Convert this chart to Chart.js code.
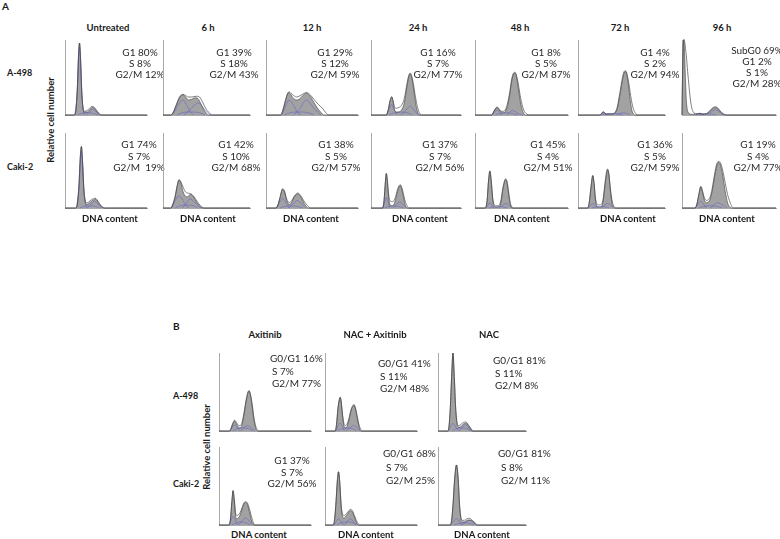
<!DOCTYPE html>
<html>
<head>
<meta charset="utf-8">
<script src="https://cdn.jsdelivr.net/npm/chart.js@4.4.1/dist/chart.umd.min.js"></script>
<style>
body { margin: 0; background: #fff; }
#fig { position: relative; width: 780px; height: 539px; font-family: Lato, "Open Sans", sans-serif; color: #2a2a2a; overflow: hidden; }
#fig canvas { position: absolute; }
.t { position: absolute; white-space: pre; font-size: 10px; line-height: 1; }
.c { transform: translate(-50%, -50%); }
.l { transform: translateY(-50%); }
.b { font-weight: bold; color: #1a1a1a; }
.v { transform: translate(-50%, -50%) rotate(-90deg); }
</style>
</head>
<body>
<div id="fig"></div>
<script>
// x = DNA content (channel, 0-100), y = relative cell number (0-100)

// ---- A-498, time course ----
const a498_0h_hist = [[0,0],[11,0],[13,4],[15,35],[16.5,80],[17.7,96],[19,75],[20.5,30],[22,9],[24,4],[27,4],[30,7],[33,10],[35,9.5],[38,6],[41,2],[44,0],[100,0]];
const a498_0h_fit = [[0,0],[11,0],[13,4],[15,35],[16.5,80],[17.7,96],[19,75],[20.5,30],[22,9],[24,5],[27,6],[30,9],[33,11.5],[35,11],[38,7],[41,2.5],[45,0],[100,0]];
const a498_0h_g1 = [[12,0],[15,30],[17.7,90],[20.5,28],[23,0]];
const a498_0h_s = [[15,0],[20,2],[28,3],[35,2],[40,0]];
const a498_0h_g2 = [[26,0],[30,4],[34,8],[38,4],[42,0]];

const a498_6h_hist = [[0,0],[9,0],[12,4],[16,15],[19.5,24],[23,27],[26,24],[29,20],[33,21],[37,23],[40,22],[44,14],[48,5],[52,0],[100,0]];
const a498_6h_fit = [[0,0],[9,0],[12,4],[16,16],[19.5,25],[23,27.5],[26,26],[29,24],[33,24],[38,25],[42,24],[46,16],[50,7],[54,2],[57,0],[100,0]];
const a498_6h_g1 = [[10,0],[15,8],[19,16],[23,20],[27,14],[31,5],[35,0]];
const a498_6h_s = [[16,0],[22,3],[32,4],[42,3],[48,0]];
const a498_6h_g2 = [[24,0],[30,6],[36,13],[41,16],[46,10],[51,3],[55,0]];

const a498_12h_hist = [[0,0],[16,0],[18,5],[21,18],[23.5,28],[25,30],[27,27],[30,22],[33,20],[36,21],[40,26],[44,29],[48,25],[52,17],[56,9],[60,3],[63,0],[100,0]];
const a498_12h_fit = [[0,0],[16,0],[18,5],[21,19],[23.5,29],[25,31],[27,29],[30,26],[33,24],[36,25],[40,28],[44,30],[48,27],[52,21],[57,14],[62,8],[65,3],[68,0],[100,0]];
const a498_12h_g1 = [[17,0],[20,8],[25,20],[30,13],[34,4],[38,0]];
const a498_12h_s = [[20,0],[26,3],[36,4],[46,3],[52,0]];
const a498_12h_g2 = [[30,0],[36,7],[44,20],[50,12],[56,4],[60,0]];

const a498_24h_hist = [[0,0],[17,0],[19,6],[21,18],[23,24],[24.5,18],[26,8],[28,4],[31,4],[34,7],[37,16],[40,38],[42,51],[43.5,55],[45,51],[47,38],[49,20],[51,7],[53,1],[55,0],[100,0]];
const a498_24h_fit = [[0,0],[17,0],[19,6],[21,18],[23,24.5],[24.5,19],[26,11],[28,9],[31,10],[34,13],[37,22],[40,42],[42,53],[43.5,56],[45,53],[47,42],[49,27],[51,14],[53,5],[55,1],[57,0],[100,0]];
const a498_24h_g1 = [[17,0],[20,8],[23,14],[26,6],[29,0]];
const a498_24h_s = [[20,0],[26,3],[33,4],[40,3],[46,0]];
const a498_24h_g2 = [[33,0],[37,4],[40,8],[44,12],[48,6],[52,1],[55,0]];

const a498_48h_hist = [[0,0],[18,0],[20,4],[22.5,9],[24,10],[26,7],[28,4],[31,3],[34,8],[37,24],[39.5,45],[41.5,55],[43,56],[45,48],[47,32],[49,16],[51,6],[53,1],[55,0],[100,0]];
const a498_48h_fit = [[0,0],[18,0],[20,4],[22.5,9.5],[24,10.5],[26,8],[28,5],[31,5],[34,11],[37,28],[39.5,48],[41.5,56],[43,57],[45,51],[47,38],[49,23],[51,12],[53,5],[56,1],[58,0],[100,0]];
const a498_48h_g1 = [[18,0],[21,4],[23.5,7],[26,4],[29,0]];
const a498_48h_s = [[22,0],[27,2],[34,3],[40,2],[46,0]];
const a498_48h_g2 = [[34,0],[37,3],[40,6],[44,4],[48,1],[52,0]];

const a498_72h_hist = [[0,0],[25,0],[27,2],[29,4],[31,2],[33,1],[38,1],[42,2],[45,8],[48,25],[51,46],[53,56],[54.5,58],[56,54],[58,40],[60,20],[62,6],[64,1],[66,0],[100,0]];
const a498_72h_fit = [[0,0],[25,0],[27,2],[29,4.5],[31,2.5],[33,1.5],[38,1.5],[42,3],[45,10],[48,29],[51,49],[53,58],[54.5,59],[56,56],[58,45],[60,30],[62,16],[64,7],[66,2.5],[68,0],[100,0]];
const a498_72h_g1 = [[25,0],[27,1.5],[29,3],[31,1.5],[33,0]];
const a498_72h_s = [[27,0],[32,1.5],[40,2],[46,1.5],[52,0]];
const a498_72h_g2 = [[44,0],[48,2],[52,3],[56,2],[60,0]];

const a498_96h_hist = [[0,0],[0.5,45],[1.3,90],[2,100],[2.8,80],[3.6,50],[4.5,22],[5.5,8],[7,3],[10,1],[16,1],[19,2],[22,1],[26,1.5],[29,4],[32,8],[35.5,10],[38,8.5],[41,4],[44,1],[47,0],[100,0]];
const a498_96h_fit = [[0,0],[0.5,50],[1.3,95],[2,101],[3,96],[4.5,80],[6,58],[7.5,38],[9,20],[10.5,9],[12,4],[15,2],[19,2],[22,1.5],[26,2],[29,5],[32,9],[35.5,11],[38,9.5],[41,5],[44,1.5],[48,0],[100,0]];
const a498_96h_g1 = [[15,0],[17,1.5],[19,2.5],[21,1.5],[23,0]];
const a498_96h_s = [[18,0],[22,1],[28,1.5],[32,1],[36,0]];
const a498_96h_g2 = [[27,0],[31,4],[35.5,7],[40,4],[44,0]];

// ---- Caki-2, time course ----
const caki_0h_hist = [[0,0],[13,0],[15,5],[17,30],[18.5,65],[20,82],[21.5,60],[23,25],[24.5,9],[26,5],[29,6],[32,9],[35,11],[37,12],[39,10],[42,5],[45,1.5],[48,0],[100,0]];
const caki_0h_fit = [[0,0],[13,0],[15,5],[17,30],[18.5,65],[20,82],[21.5,60],[23,26],[24.5,11],[26,7],[29,8],[32,11],[35,12.5],[37,13],[39,11],[42,6],[45,2],[49,0],[100,0]];
const caki_0h_g1 = [[14,0],[17,25],[20,75],[23,22],[26,0]];
const caki_0h_s = [[18,0],[23,2],[30,3],[37,2],[42,0]];
const caki_0h_g2 = [[27,0],[31,4],[36,9],[41,4],[45,0]];

const caki_6h_hist = [[0,0],[9,0],[11,4],[14,15],[16.5,30],[18.5,37],[20.5,33],[23,22],[25.5,16],[28,15],[30,17],[32,18],[35,15],[38,9],[41,4],[44,1],[46,0],[100,0]];
const caki_6h_fit = [[0,0],[9,0],[11,4],[14,16],[16.5,31],[18.5,38],[20.5,35],[23,28],[25.5,22],[28,20],[30,19.5],[32,19],[35,16],[38,11],[41,6],[44,2],[48,0],[100,0]];
const caki_6h_g1 = [[10,0],[14,10],[18,16],[22,12],[26,4],[30,0]];
const caki_6h_s = [[14,0],[20,3],[28,4],[35,3],[40,0]];
const caki_6h_g2 = [[22,0],[26,5],[31,12],[36,8],[41,2],[44,0]];

const caki_12h_hist = [[0,0],[11,0],[13,4],[15.5,15],[18,25],[20,22],[22,12],[24,6],[26,5],[28,8],[30.5,14],[33,18],[34.5,19],[36.5,17],[39,12],[41.5,6],[44,2],[46,0],[100,0]];
const caki_12h_fit = [[0,0],[11,0],[13,4],[15.5,15.5],[18,25.5],[20,23],[22,14],[24,8],[26,7.5],[28,10],[30.5,15.5],[33,19],[34.5,20],[36.5,18.5],[39,14],[42,8],[45,3.5],[48.5,0],[100,0]];
const caki_12h_g1 = [[11,0],[15,8],[18,13],[21,8],[25,0]];
const caki_12h_s = [[15,0],[20,2],[27,3],[34,2],[40,0]];
const caki_12h_g2 = [[25,0],[29,5],[34,10],[39,5],[43,0]];

const caki_24h_hist = [[0,0],[13,0],[14.5,10],[16,35],[17,46],[18,38],[19.5,15],[21,5],[23,3],[25,4],[27,10],[29.5,22],[31.5,29],[32.5,30],[34,26],[36,15],[38,4],[40,0],[100,0]];
const caki_24h_fit = [[0,0],[13,0],[14.5,10],[16,35],[17,46],[18,39],[19.5,19],[21,10],[23,8.5],[25,9],[27,14],[29.5,25],[31.5,30],[32.5,31],[34,28],[36,19],[38,9],[40,3],[42,0],[100,0]];
const caki_24h_g1 = [[13,0],[15,8],[17,14],[19,8],[21,0]];
const caki_24h_s = [[15,0],[20,2],[25,3],[31,2],[36,0]];
const caki_24h_g2 = [[25,0],[28,4],[32,8],[36,4],[39,0]];

const caki_48h_hist = [[0,0],[11,0],[13,10],[14.5,35],[16,49],[17.5,35],[19,12],[20.5,3],[23,1],[26,2],[28,8],[30,25],[32,36],[33,38],[34.5,33],[36,20],[37.5,7],[39,1],[41,0],[100,0]];
const caki_48h_fit = [[0,0],[11,0],[13,10],[14.5,36],[16,49.5],[17.5,36],[19,14],[20.5,5],[23,3],[26,4],[28,11],[30,27],[32,37],[33,39],[34.5,35],[36,23],[37.5,10],[39,3],[42,0],[100,0]];
const caki_48h_g1 = [[12,0],[14,4],[16,7],[18,4],[20,0]];
const caki_48h_s = [[15,0],[20,1.5],[25,2],[30,1.5],[35,0]];
const caki_48h_g2 = [[26,0],[29,3],[33,6],[37,3],[40,0]];

const caki_72h_hist = [[0,0],[11,0],[13,8],[15,28],[17,43],[18.5,32],[20,12],[21.5,3],[24,1],[27,2],[29,10],[31,30],[33,47],[34,51],[35.5,44],[37,25],[39,7],[41,1],[43,0],[100,0]];
const caki_72h_fit = [[0,0],[11,0],[13,8],[15,29],[17,43.5],[18.5,33],[20,14],[21.5,6],[24,4],[27,5],[29,13],[31,33],[33,49],[34,52],[35.5,46],[37,29],[39,11],[41,3],[44,0],[100,0]];
const caki_72h_g1 = [[12,0],[14,3],[17,6],[20,3],[22,0]];
const caki_72h_s = [[16,0],[21,1.5],[26,2],[31,1.5],[36,0]];
const caki_72h_g2 = [[27,0],[30,3],[34,6],[38,3],[41,0]];

const caki_96h_hist = [[0,0],[14,0],[16,6],[18,18],[20,28],[22,20],[24,10],[26,7],[28,8],[30,12],[32,22],[34.5,40],[37,56],[39,61],[41,57],[43.5,42],[46,22],[48.5,7],[51,1],[53,0],[100,0]];
const caki_96h_fit = [[0,0],[14,0],[16,6],[18,19],[20,29],[22,22],[24,13],[26,10],[28,11],[30,15],[32,25],[34.5,44],[37,59],[39,62],[41,60],[43.5,49],[46,33],[48.5,18],[51,8],[53,2],[55,0],[100,0]];
const caki_96h_g1 = [[14,0],[17,5],[20,9],[23,5],[26,0]];
const caki_96h_s = [[18,0],[23,2],[30,3],[37,2],[43,0]];
const caki_96h_g2 = [[30,0],[34,4],[38,7],[43,4],[48,0]];

// ---- B: Axitinib / NAC + Axitinib / NAC ----
const a498_axi_hist = [[0,0],[11,0],[13,3],[15,9],[17,12.5],[19,9],[21,5],[23,4],[25,8],[27,20],[29.5,38],[31.5,49],[32.7,51],[34,47],[36,32],[38,14],[40,3],[42,0],[100,0]];
const a498_axi_fit = [[0,0],[11,0],[13,3],[15,10],[17,14],[19,11],[21,7.5],[23,7],[25,11],[27,22],[29.5,40],[31.5,50],[32.7,52],[34,48],[36,35],[38,17],[40,6],[42,1],[44,0],[100,0]];
const a498_axi_g1 = [[12,0],[14,4],[17,8],[20,4],[23,0]];
const a498_axi_s = [[15,0],[20,3],[26,4],[32,3],[37,0]];
const a498_axi_g2 = [[24,0],[27,4],[31,7],[35,4],[39,0]];

const a498_nacaxi_hist = [[0,0],[11,0],[12.5,8],[14,28],[15.5,40],[16.5,43],[17.5,38],[19,20],[20.5,7],[22,4],[24,6],[26,14],[28.5,27],[30.5,32],[31.5,33],[33,29],[35,17],[37,5],[39,0],[100,0]];
const a498_nacaxi_fit = [[0,0],[11,0],[12.5,8],[14,28],[15.5,40],[16.5,43.5],[17.5,39],[19,22],[20.5,10],[22,7],[24,9],[26,16],[28.5,28],[30.5,33],[31.5,34],[33,30],[35,19],[37,8],[39,2],[41,0],[100,0]];
const a498_nacaxi_g1 = [[12,0],[14,6],[16.5,10],[19,6],[21,0]];
const a498_nacaxi_s = [[14,0],[19,3],[24,4],[30,3],[35,0]];
const a498_nacaxi_g2 = [[23,0],[27,4],[31,7],[35,4],[38,0]];

const a498_nac_hist = [[0,0],[11,0],[12.5,6],[14,30],[15.5,70],[17,100],[18.5,70],[20,30],[21.5,10],[23,5],[25,5],[27,7],[29,9],[31,10],[33,9],[35,6],[37,3],[39,0],[100,0]];
const a498_nac_fit = [[0,0],[11,0],[12.5,6],[14,30],[15.5,70],[17,100],[18.5,70],[20,31],[21.5,12],[23,7],[25,7.5],[27,9.5],[29,11],[31,11.5],[33,10.5],[35,7],[37,4],[40,0],[100,0]];
const a498_nac_g1 = [[12,0],[14,5],[17,10],[20,5],[23,0]];
const a498_nac_s = [[16,0],[21,3],[27,4],[33,3],[38,0]];
const a498_nac_g2 = [[24,0],[27,4],[31,8],[35,4],[38,0]];

const caki_axi_hist = [[0,0],[11,0],[12.5,8],[14,30],[15.3,44],[16.5,33],[18,12],[19.5,8],[21,9],[23,13],[25,20],[27,27],[29,29],[31,26],[33,17],[35,7],[37,1],[39,0],[100,0]];
const caki_axi_fit = [[0,0],[11,0],[12.5,8],[14,30],[15.3,44],[16.5,34],[18,16],[19.5,12],[21,13],[23,16],[25,22],[27,28],[29,30],[31,28],[33,21],[35,12],[37,4],[39,0],[100,0]];
const caki_axi_g1 = [[11,0],[13,6],[15.3,11],[18,6],[20,0]];
const caki_axi_s = [[14,0],[19,3],[24,4],[29,3],[34,0]];
const caki_axi_g2 = [[21,0],[25,5],[29,9],[33,5],[36,0]];

const caki_nacaxi_hist = [[0,0],[9,0],[10.5,8],[12,30],[13.5,58],[14.7,68],[16,55],[17.5,25],[19,11],[20.5,9],[22.5,11],[25,15],[27.6,18.5],[30,16],[32,10],[34,4],[36,0],[100,0]];
const caki_nacaxi_fit = [[0,0],[9,0],[10.5,8],[12,30],[13.5,58],[14.7,68.5],[16,56],[17.5,27],[19,14],[20.5,12],[22.5,13.5],[25,17],[27.6,20],[30,18],[32,12],[34,6],[36.5,1],[38,0],[100,0]];
const caki_nacaxi_g1 = [[10,0],[12,4],[14.7,8],[17.5,4],[20,0]];
const caki_nacaxi_s = [[13,0],[18,3],[24,4],[30,3],[34,0]];
const caki_nacaxi_g2 = [[21,0],[24,4],[27.6,8],[31,4],[34,0]];

const caki_nac_hist = [[0,0],[14,0],[15.5,6],[17,25],[19,60],[21,77],[23,58],[24.5,25],[26,8],[27.5,4],[30,4],[33,6],[36,6.5],[39,5],[42,2],[44,0],[100,0]];
const caki_nac_fit = [[0,0],[14,0],[15.5,6],[17,25],[19,60],[21,77],[23,58],[24.5,26],[26,10],[27.5,6],[30,6],[33,8],[36,8.5],[39,6],[42,3],[45,0],[100,0]];
const caki_nac_g1 = [[14,0],[17,4],[21,8],[24.5,4],[27,0]];
const caki_nac_s = [[18,0],[24,2],[30,3],[36,2],[41,0]];
const caki_nac_g2 = [[27,0],[31,3],[36,6],[40,3],[44,0]];

// ---- text ----
const timeLabels = ['Untreated', '6 h', '12 h', '24 h', '48 h', '72 h', '96 h'];
const treatLabels = ['Axitinib', 'NAC + Axitinib', 'NAC'];
const a498Stats = [
  ['G1 80%', 'S 8%', 'G2/M 12%'],
  ['G1 39%', 'S 18%', 'G2/M 43%'],
  ['G1 29%', 'S 12%', 'G2/M 59%'],
  ['G1 16%', 'S 7%', 'G2/M 77%'],
  ['G1 8%', 'S 5%', 'G2/M 87%'],
  ['G1 4%', 'S 2%', 'G2/M 94%'],
  ['SubG0 69%', 'G1 2%', 'S 1%', 'G2/M 28%']
];
const cakiStats = [
  ['G1 74%', 'S 7%', 'G2/M  19%'],
  ['G1 42%', 'S 10%', 'G2/M 68%'],
  ['G1 38%', 'S 5%', 'G2/M 57%'],
  ['G1 37%', 'S 7%', 'G2/M 56%'],
  ['G1 45%', 'S 4%', 'G2/M 51%'],
  ['G1 36%', 'S 5%', 'G2/M 59%'],
  ['G1 19%', 'S 4%', 'G2/M 77%']
];
const a498TreatStats = [
  ['G0/G1 16%', 'S 7%', 'G2/M 77%'],
  ['G0/G1 41%', 'S 11%', 'G2/M 48%'],
  ['G0/G1 81%', 'S 11%', 'G2/M 8%']
];
const cakiTreatStats = [
  ['G1 37%', 'S 7%', 'G2/M 56%'],
  ['G0/G1 68%', 'S 7%', 'G2/M 25%'],
  ['G0/G1 81%', 'S 8%', 'G2/M 11%']
];

// ---- layout ----
const fig = document.getElementById('fig');

function text(str, x, y, cls, size) {
  const d = document.createElement('div');
  d.className = 't ' + cls;
  d.textContent = str;
  d.style.left = x + 'px';
  d.style.top = y + 'px';
  if (size) d.style.fontSize = size + 'px';
  fig.appendChild(d);
}

function panel(x, top, base, w, hist, fit, g1, s, g2) {
  const cv = document.createElement('canvas');
  cv.width = w + 2;
  cv.height = base - top + 2;
  cv.style.left = (x - 1) + 'px';
  cv.style.top = (top - 1) + 'px';
  fig.appendChild(cv);
  const line = { pointRadius: 0, cubicInterpolationMode: 'monotone', fill: false, clip: false };
  const blue = { ...line, borderColor: 'rgba(90,90,210,0.7)', borderWidth: 0.7 };
  new Chart(cv, {
    type: 'line',
    data: {
      datasets: [
        { ...line, data: hist, borderColor: '#3c3c3c', borderWidth: 0.6, order: 0 },
        { ...blue, data: g1, order: 1 },
        { ...blue, data: s, order: 1 },
        { ...blue, data: g2, order: 1 },
        { ...line, data: fit, borderColor: '#707070', borderWidth: 0.9, order: 2 },
        { ...line, data: hist, fill: 'origin', backgroundColor: '#a2a2a2', borderWidth: 0, order: 4 }
      ]
    },
    options: {
      responsive: false,
      animation: false,
      events: [],
      layout: { padding: { left: 1, top: 1, right: 1, bottom: 1 } },
      plugins: { legend: { display: false }, tooltip: { enabled: false } },
      scales: {
        x: { type: 'linear', min: 0, max: 100, ticks: { display: false }, grid: { display: false, drawTicks: false }, border: { color: '#aaaaaa', width: 1 } },
        y: { min: 0, max: 100, ticks: { display: false }, grid: { display: false, drawTicks: false }, border: { color: '#aaaaaa', width: 1 } }
      }
    }
  });
}

// Part A
const colX = [65, 163, 266, 371, 475, 578, 682];
const colW = [82, 87, 92, 90, 93, 87, 94];
const titleX = [108, 208, 312, 418, 520, 620, 722];
const dnaX = [110, 208, 311, 420, 522, 628, 727];
const statX1 = [140, 234, 335, 438, 546, 655, 757];
const statX2 = [139, 236, 336, 440, 548, 655, 758];
const rowA1 = [
  [a498_0h_hist, a498_0h_fit, a498_0h_g1, a498_0h_s, a498_0h_g2],
  [a498_6h_hist, a498_6h_fit, a498_6h_g1, a498_6h_s, a498_6h_g2],
  [a498_12h_hist, a498_12h_fit, a498_12h_g1, a498_12h_s, a498_12h_g2],
  [a498_24h_hist, a498_24h_fit, a498_24h_g1, a498_24h_s, a498_24h_g2],
  [a498_48h_hist, a498_48h_fit, a498_48h_g1, a498_48h_s, a498_48h_g2],
  [a498_72h_hist, a498_72h_fit, a498_72h_g1, a498_72h_s, a498_72h_g2],
  [a498_96h_hist, a498_96h_fit, a498_96h_g1, a498_96h_s, a498_96h_g2]
];
const rowA2 = [
  [caki_0h_hist, caki_0h_fit, caki_0h_g1, caki_0h_s, caki_0h_g2],
  [caki_6h_hist, caki_6h_fit, caki_6h_g1, caki_6h_s, caki_6h_g2],
  [caki_12h_hist, caki_12h_fit, caki_12h_g1, caki_12h_s, caki_12h_g2],
  [caki_24h_hist, caki_24h_fit, caki_24h_g1, caki_24h_s, caki_24h_g2],
  [caki_48h_hist, caki_48h_fit, caki_48h_g1, caki_48h_s, caki_48h_g2],
  [caki_72h_hist, caki_72h_fit, caki_72h_g1, caki_72h_s, caki_72h_g2],
  [caki_96h_hist, caki_96h_fit, caki_96h_g1, caki_96h_s, caki_96h_g2]
];

text('A', 2, 6, 'l b', 10);
text('A-498', 7, 72, 'l b', 9);
text('Caki-2', 7, 166, 'l b', 9);
text('Relative cell number', 51, 120, 'v b', 9.5);
for (let i = 0; i < 7; i++) {
  text(timeLabels[i], titleX[i], 28, 'c b', 9.5);
  panel(colX[i], 40, 115, colW[i], ...rowA1[i]);
  panel(colX[i], 133, 208, colW[i], ...rowA2[i]);
  const y1 = i === 6 ? 50 : 52;
  a498Stats[i].forEach((s, k) => text(s, statX1[i], y1 + k * 11, 'c', 10));
  cakiStats[i].forEach((s, k) => text(s, statX2[i], 144 + k * 11.5, 'c', 10));
  text('DNA content', dnaX[i], 219, 'c b', 9.5);
}

// Part B
const colXB = [219, 325, 438];
const colWB = [92, 92, 88];
const titleXB = [265, 375, 489];
const dnaXB = [259, 366, 482];
const rowB1 = [
  [a498_axi_hist, a498_axi_fit, a498_axi_g1, a498_axi_s, a498_axi_g2],
  [a498_nacaxi_hist, a498_nacaxi_fit, a498_nacaxi_g1, a498_nacaxi_s, a498_nacaxi_g2],
  [a498_nac_hist, a498_nac_fit, a498_nac_g1, a498_nac_s, a498_nac_g2]
];
const rowB2 = [
  [caki_axi_hist, caki_axi_fit, caki_axi_g1, caki_axi_s, caki_axi_g2],
  [caki_nacaxi_hist, caki_nacaxi_fit, caki_nacaxi_g1, caki_nacaxi_s, caki_nacaxi_g2],
  [caki_nac_hist, caki_nac_fit, caki_nac_g1, caki_nac_s, caki_nac_g2]
];
const statB1 = [[270, 358], [378, 363], [493, 360]];
const statB2 = [[383, 453], [498, 453]];

text('B', 173, 326, 'l b', 10);
text('A-498', 173, 395, 'l b', 9);
text('Caki-2', 173, 483, 'l b', 9);
text('Relative cell number', 207, 447, 'v b', 9.5);
for (let i = 0; i < 3; i++) {
  text(treatLabels[i], titleXB[i], 335, 'c b', 9.5);
  panel(colXB[i], 353, 431, colWB[i], ...rowB1[i]);
  panel(colXB[i], 447, 525, colWB[i], ...rowB2[i]);
  text('DNA content', dnaXB[i], 535, 'c b', 9.5);
  a498TreatStats[i].forEach((s, k) => text(s, statB1[i][0] + (k ? 2 : 0), statB1[i][1] + k * 12.5, 'l', 10));
}
cakiTreatStats[0].forEach((s, k) => text(s, 292, 460 + k * 11.5, 'c', 10));
for (let i = 1; i < 3; i++) {
  cakiTreatStats[i].forEach((s, k) => text(s, statB2[i - 1][0] + (k ? 3 : 0), statB2[i - 1][1] + k * 13.5, 'l', 10));
}
</script>
</body>
</html>
